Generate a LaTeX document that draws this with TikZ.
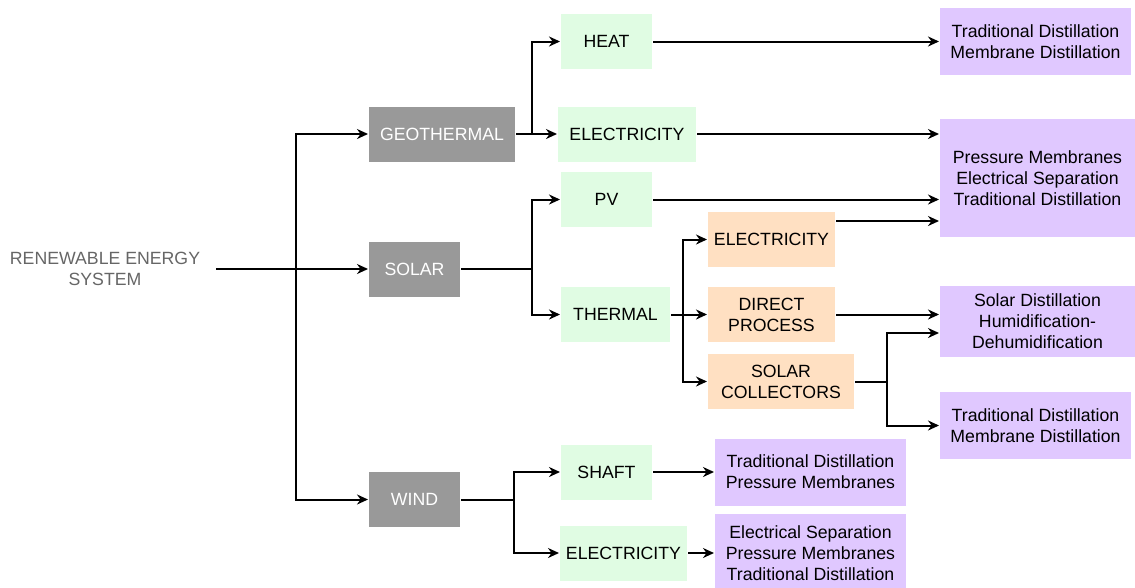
\documentclass[tikz,border=0pt]{standalone}
\usepackage{fontspec}
\setmainfont{Liberation Sans}
\usetikzlibrary{arrows.meta}
\definecolor{boxgray}{HTML}{999999}
\definecolor{boxgreen}{HTML}{E0FCE3}
\definecolor{boxpeach}{HTML}{FFE0C2}
\definecolor{boxlilac}{HTML}{E0C8FF}
\newcommand{\lbl}{\fontsize{17.7}{21}\selectfont}

\begin{document}
\begin{tikzpicture}[x=1pt, y=-1pt, line width=2pt, >={Stealth[length=11pt,width=10pt]},
  box/.style={inner sep=0pt, align=center, font=\lbl, minimum height=55pt},
  src/.style={box, fill=boxgray, text=white},
  stepa/.style={box, fill=boxgreen},
  stepb/.style={box, fill=boxpeach},
  techbox/.style={box, fill=boxlilac, minimum height=67pt}]
\useasboundingbox (0,0) rectangle (1135,587);
\node[inner sep=0pt, align=center, font=\lbl, text=black!60, minimum width=220pt] (res) at (105,269) {RENEWABLE ENERGY\\SYSTEM};
\node[src, minimum width=146pt] (geo) at (442,134) {GEOTHERMAL};
\node[src, minimum width=91pt] (sol) at (414.5,269) {SOLAR};
\node[src, minimum width=91pt] (wnd) at (414.5,499.5) {WIND};
\node[stepa, minimum width=91pt] (heat) at (606.5,41.5) {HEAT};
\node[stepa, minimum width=138pt] (gel) at (627,134) {ELECTRICITY};
\node[stepa, minimum width=91pt] (pv) at (606.5,199.5) {PV};
\node[stepa, minimum width=109pt] (thm) at (615.5,314.5) {THERMAL};
\node[stepa, minimum width=91pt] (shf) at (606.5,472) {SHAFT};
\node[stepa, minimum width=127pt] (wel) at (623.5,553) {ELECTRICITY};
\node[stepb, minimum width=127pt] (tel) at (771.5,239.5) {ELECTRICITY};
\node[stepb, minimum width=127pt] (dir) at (771.5,314.5) {DIRECT\\PROCESS};
\node[stepb, minimum width=146pt] (col) at (781,381.5) {SOLAR\\COLLECTORS};
\node[techbox, minimum width=191pt] (td1) at (1035.5,41.5) {Traditional Distillation\\Membrane Distillation};
\node[techbox, minimum width=195pt, minimum height=118pt] (pm) at (1037.5,178) {Pressure Membranes\\Electrical Separation\\Traditional Distillation};
\node[techbox, minimum width=195pt, minimum height=71pt] (sd) at (1037.5,321.5) {Solar Distillation\\Humidification-\\Dehumidification};
\node[techbox, minimum width=191pt] (td2) at (1035.5,425.5) {Traditional Distillation\\Membrane Distillation};
\node[techbox, minimum width=191pt] (td3) at (810.5,472) {Traditional Distillation\\Pressure Membranes};
\node[techbox, minimum width=191pt, minimum height=78pt] (es) at (810.5,553) {Electrical Separation\\Pressure Membranes\\Traditional Distillation};
% branch points
\coordinate (jr) at (296,269); \coordinate (jg) at (532,134); \coordinate (js) at (532,269);
\coordinate (jt) at (683,314.5); \coordinate (jc) at (887,381.5); \coordinate (jw) at (514,499.5);
\coordinate (tout) at ([yshift=-10pt]tel.north east); \coordinate (sdin) at ([yshift=-11.5pt]sd.west);
\draw[->] (res.east) -- (sol.west); \draw[->] (jr) |- (geo.west); \draw[->] (jr) |- (wnd.west);
\draw[->] (geo.east) -- (gel.west); \draw[->] (jg) |- (heat.west);
\draw (sol.east) -- (js); \draw[->] (js) |- (pv.west); \draw[->] (js) |- (thm.west);
\draw (wnd.east) -- (jw); \draw[->] (jw) |- (shf.west); \draw[->] (jw) |- (wel.west);
\draw (thm.east) -- (jt); \draw[->] (jt) |- (tel.west); \draw[->] (jt) -- (dir.west); \draw[->] (jt) |- (col.west);
\draw[->] (heat.east) -- (td1.west); \draw[->] (gel.east) -- (gel.east -| pm.west); \draw[->] (pv.east) -- (pv.east -| pm.west);
\draw[->] (tout) -- (tout -| pm.west); \draw[->] (dir.east) -- (dir.east -| sd.west);
\draw (col.east) -- (jc); \draw[->] (jc) |- (sdin); \draw[->] (jc) |- (td2.west);
\draw[->] (shf.east) -- (td3.west); \draw[->] (wel.east) -- (es.west);
\end{tikzpicture}
\end{document}
